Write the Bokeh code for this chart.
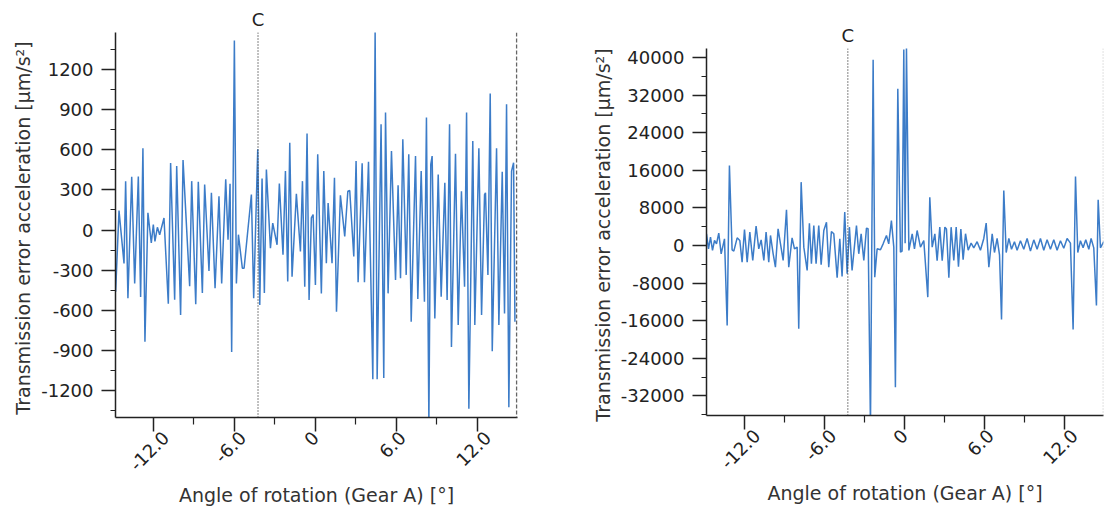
import math
from bokeh.plotting import figure
from bokeh.models import Range1d, FixedTicker, Span, LinearAxis
from bokeh.layouts import row
from bokeh.embed import file_html
from bokeh.resources import INLINE

# ---------------- data ----------------
left_angle = [
    -14.79, -14.54, -14.17, -14.05, -13.88, -13.60, -13.38, -13.11, -12.94, -12.77,
    -12.62, -12.40, -12.15, -12.00, -11.88, -11.70, -11.53, -11.21, -10.89, -10.72,
    -10.42, -10.27, -9.98, -9.80, -9.31, -9.16, -8.86, -8.67, -8.37, -8.20,
    -7.88, -7.70, -7.43, -7.14, -6.94, -6.64, -6.47, -6.32, -6.20, -6.00,
    -5.85, -5.70, -5.41, -5.28, -4.74, -4.57, -4.27, -4.12, -3.95, -3.78,
    -3.63, -3.33, -3.16, -2.84, -2.67, -2.40, -2.22, -2.05, -1.90, -1.73,
    -1.41, -1.11, -0.96, -0.79, -0.62, -0.47, -0.30, -0.17, 0.00, 0.17,
    0.44, 0.62, 0.81, 0.94, 1.23, 1.41, 1.56, 1.85, 2.17, 2.40,
    2.54, 2.84, 3.01, 3.16, 3.46, 3.63, 3.93, 4.25, 4.42, 4.57,
    4.86, 5.06, 5.19, 5.38, 5.63, 5.93, 6.12, 6.30, 6.47, 6.72,
    6.91, 7.09, 7.41, 7.58, 7.83, 8.07, 8.22, 8.40, 8.54, 8.64,
    8.84, 9.09, 9.31, 9.58, 9.75, 9.93, 10.07, 10.37, 10.57, 10.81,
    11.04, 11.19, 11.36, 11.65, 11.80, 12.10, 12.30, 12.52, 12.59, 12.77,
    12.94, 13.09, 13.41, 13.58, 13.83, 14.00, 14.15, 14.32, 14.52, 14.67,
    14.77,
]
left_accel = [
    -460, 145, -250, 365, -510, 398, -400, 400, -500, 610,
    -835, 128, -97, 40, -85, 20, -35, 90, -550, 500,
    -520, 478, -635, 522, -420, 365, -555, 360, -470, 340,
    -305, 278, -435, 252, -400, 378, -72, 345, -910, 1415,
    -400, -35, -285, -285, 265, -510, 603, -560, 385, -470,
    452, -135, 52, -110, 348, -185, 440, -385, 652, -348,
    270, -160, 365, -423, 720, -523, 90, 115, -410, 565,
    -473, 440, -248, 202, -248, 390, -610, 260, -48, 290,
    295, -198, 515, -390, 498, -390, 510, -1115, 1490, -1115,
    790, -1105, 878, -473, 590, -373, 335, -360, 678, -335,
    565, -685, 552, -515, 440, -535, 840, -1435, 490, 552,
    -660, 415, -498, 353, -523, 790, -873, 570, -710, 290,
    -423, 878, -1335, 665, -710, 610, -635, 265, 278, -335,
    1020, -905, 610, -710, 435, -623, 940, -1323, 440, 503,
    -685,
]

right_angle = [
    -14.85, -14.70, -14.55, -14.40, -14.25, -14.10, -13.93, -13.75, -13.50, -13.30,
    -13.13, -12.93, -12.80, -12.55, -12.35, -12.18, -12.00, -11.80, -11.60, -11.38,
    -11.13, -10.93, -10.75, -10.55, -10.38, -10.18, -10.05, -9.85, -9.68, -9.48,
    -9.30, -9.10, -8.85, -8.68, -8.43, -8.25, -8.05, -7.93, -7.75, -7.55,
    -7.30, -7.13, -6.98, -6.80, -6.63, -6.43, -6.25, -6.05, -5.85, -5.68,
    -5.48, -5.30, -5.05, -4.85, -4.68, -4.48, -4.30, -4.13, -3.93, -3.60,
    -3.43, -3.25, -3.05, -2.85, -2.73, -2.55, -2.35, -2.23, -2.05, -1.80,
    -1.60, -1.35, -1.18, -0.98, -0.80, -0.68, -0.50, -0.30, -0.18, -0.05,
    0.05, 0.15, 0.33, 0.58, 0.75, 0.95, 1.20, 1.45, 1.75, 1.90,
    2.08, 2.28, 2.45, 2.65, 2.83, 3.03, 3.15, 3.33, 3.50, 3.70,
    3.88, 4.05, 4.23, 4.40, 4.58, 4.78, 5.00, 5.20, 5.45, 5.70,
    5.95, 6.13, 6.33, 6.58, 6.75, 6.95, 7.13, 7.28, 7.45, 7.63,
    7.83, 8.03, 8.25, 8.45, 8.70, 8.95, 9.20, 9.45, 9.70, 9.95,
    10.20, 10.45, 10.70, 10.95, 11.20, 11.45, 11.70, 11.95, 12.20, 12.45,
    12.65, 12.83, 13.00, 13.20, 13.40, 13.60, 13.83, 14.00, 14.20, 14.40,
    14.53, 14.70, 14.95,
]
right_accel = [
    2480, -700, 1770, -1060, 1060, 350, 2620, -1770, 1420, -17020,
    17020, -920, -1200, 1630, 1060, -3550, 3400, -3550, 2840, -3190,
    4110, -710, 1200, -3190, 2840, -3550, 2130, -1770, -4610, 3550,
    350, -3190, 7590, -4610, 1630, -710, -350, -17730, 13480, -350,
    -5320, 4750, -3900, 4260, -3900, 4260, -4110, 3190, 4960, -4610,
    2980, 2480, -6880, 1420, -6600, 7100, -6030, 3900, -5320, 4260,
    -1770, 2480, -3190, 3690, 3550, -38660, 39510, -6740, -710, -920,
    350, 2130, 350, 5320, -350, -30160, 33340, -1420, -1200, 41700,
    500, 42200, -1060, 2480, -710, 3190, -350, 1060, -11000, 10280,
    -350, 2480, -3250, 3900, -3250, 3900, 3500, -6880, 3900, -3200,
    3900, -4540, 3500, -3000, 2500, -1000, 500, -500, 800, -1000,
    1500, 4750, -4610, 2500, -1500, 1500, -2000, -15750, 11700, -1500,
    1500, -800, 800, -1000, 1000, -800, 1500, -1200, 1200, -800,
    1500, -1000, 1200, -800, 1200, -1000, 1000, -600, 1500, 500,
    -17880, 14680, -1500, 1000, -500, 1200, -800, 1500, -500, -12770,
    9720, -500, 800,
]

x_ticks = [-12, -6, 0, 6, 12]
x_tick_labels = ["-12.0", "-6.0", "0", "6.0", "12.0"]
x_minor_ticks = [-15, -9, -3, 3, 9, 15]

left_y_ticks = [-1200, -900, -600, -300, 0, 300, 600, 900, 1200]
left_y_minor = [-1350, -1050, -750, -450, -150, 150, 450, 750, 1050, 1350]
right_y_ticks = [-32000, -24000, -16000, -8000, 0, 8000, 16000, 24000, 32000, 40000]
right_y_minor = [-36000, -28000, -20000, -12000, -4000, 4000, 12000, 20000, 28000, 36000]

marker_angle = -4.25
marker_text = "C"
y_title = "Transmission error  acceleration [µm/s²]"
x_title = "Angle of rotation (Gear A) [°]"

FONT = "DejaVu Sans"
LABEL_PX = 18
LINE_COLOR = "#3c7cc8"
DARK = "#222222"
# approximate glyph advance widths (em) of the tick-label font, used to centre the
# rotated labels under their ticks
GLYPH_EM = {"-": 0.361, ".": 0.318}


def text_width(s):
    return sum(GLYPH_EM.get(ch, 0.636) for ch in s) * LABEL_PX


def make_fig(width, height, borders, xr, yr, yticks, yminor, xs, ys, edge_span):
    p = figure(width=width, height=height, output_backend="svg", toolbar_location=None,
               x_range=Range1d(*xr), y_range=Range1d(*yr),
               min_border_left=borders[0], min_border_right=borders[1],
               min_border_top=borders[2], min_border_bottom=borders[3])
    p.frame_align = False
    p.outline_line_color = None
    p.xgrid.visible = False
    p.ygrid.visible = False
    p.background_fill_color = "white"
    p.border_fill_color = "white"

    p.line(xs, ys, line_color=LINE_COLOR, line_width=1.5)

    # bottom axis: line and ticks only
    xa = p.xaxis[0]
    xa.ticker = FixedTicker(ticks=x_ticks, minor_ticks=x_minor_ticks)
    xa.major_label_overrides = {t: "" for t in x_ticks}
    xa.major_label_text_font_size = "1px"
    xa.major_label_standoff = 0

    ya = p.yaxis[0]
    ya.ticker = FixedTicker(ticks=yticks, minor_ticks=yminor)
    ya.major_label_overrides = {t: str(t) for t in yticks}

    for ax in (xa, ya):
        ax.axis_line_color = DARK
        ax.axis_line_width = 1.5
        ax.major_tick_line_color = DARK
        ax.major_tick_line_width = 1.5
        ax.minor_tick_line_color = DARK
        ax.minor_tick_line_width = 1.2
        ax.major_tick_in = 0
        ax.major_tick_out = 14
        ax.minor_tick_in = 0
        ax.axis_label_text_font = FONT
        ax.axis_label_text_font_size = "19px"
        ax.axis_label_text_font_style = "normal"
        ax.axis_label_text_color = "#333333"
    xa.minor_tick_out = 7
    ya.minor_tick_out = 5
    ya.major_label_text_font = FONT
    ya.major_label_text_font_size = f"{LABEL_PX}px"
    ya.major_label_text_color = DARK
    ya.major_label_standoff = 8
    ya.axis_label = y_title
    ya.axis_label_standoff = 4

    # rotated tick labels on a second bottom axis, each nudged so that the label is
    # roughly centred under its tick like in the reference
    frame_w = width - borders[0] - borders[1]
    per_px = (xr[1] - xr[0]) / frame_w
    lab_ticks = [t + (0.3535 * text_width(s) - 4) * per_px
                 for t, s in zip(x_ticks, x_tick_labels)]
    la = LinearAxis(ticker=FixedTicker(ticks=lab_ticks, minor_ticks=[]),
                    major_label_overrides={t: s for t, s in zip(lab_ticks, x_tick_labels)},
                    major_label_orientation=math.pi / 4,
                    axis_line_color=None, major_tick_line_color=None, minor_tick_line_color=None,
                    major_tick_out=0, major_tick_in=0, minor_tick_out=0, minor_tick_in=0,
                    major_label_standoff=3,
                    major_label_text_font=FONT, major_label_text_font_size=f"{LABEL_PX}px",
                    major_label_text_color=DARK,
                    axis_label=x_title, axis_label_standoff=4,
                    axis_label_text_font=FONT, axis_label_text_font_size="19px",
                    axis_label_text_font_style="normal", axis_label_text_color="#333333")
    p.add_layout(la, "below")

    # marker C: dotted line and its letter above the frame
    p.add_layout(Span(location=marker_angle, dimension="height", line_color="#333333",
                      line_width=1.2, line_dash="1 2"))
    ca = LinearAxis(ticker=FixedTicker(ticks=[marker_angle], minor_ticks=[]),
                    major_label_overrides={marker_angle: marker_text},
                    axis_line_color=None, major_tick_line_color=None, minor_tick_line_color=None,
                    major_tick_out=0, major_tick_in=0, minor_tick_out=0, minor_tick_in=0,
                    major_label_standoff=3,
                    major_label_text_font=FONT, major_label_text_font_size=f"{LABEL_PX}px",
                    major_label_text_color=DARK)
    p.add_layout(ca, "above")

    p.add_layout(Span(location=edge_span[0], dimension="height", line_color=edge_span[1],
                      line_width=1.5, line_dash=edge_span[2]))
    return p


p1 = make_fig(560, 508, (115, 43, 32, 90), (-14.8, 14.96), (-1400, 1475),
              left_y_ticks, left_y_minor, left_angle, left_accel,
              (14.9, "#666666", "4 2"))
p2 = make_fig(544, 508, (146, 1, 48, 93), (-14.85, 14.93), (-36180, 41920),
              right_y_ticks, right_y_minor, right_angle, right_accel,
              (14.92, "#bbbbbb", "1 2"))

layout = row(p1, p2)
open("out.html", "w").write(file_html(layout, INLINE))
